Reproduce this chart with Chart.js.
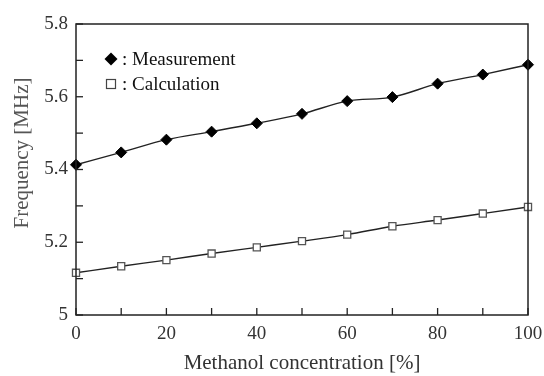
<!DOCTYPE html>
<html>
<head>
<meta charset="utf-8">
<script src="https://cdn.jsdelivr.net/npm/chart.js@4/dist/chart.umd.min.js"></script>
<style>
html,body{margin:0;padding:0;background:#fff;}
#wrap{width:544px;height:376px;position:relative;}
</style>
</head>
<body>
<div id="wrap"><canvas id="c" width="544" height="376"></canvas></div>
<script>
const concentrations = [0, 10, 20, 30, 40, 50, 60, 70, 80, 90, 100];
const measurement = [5.413, 5.447, 5.482, 5.504, 5.527, 5.553, 5.588, 5.599, 5.636, 5.661, 5.688];
const calculation = [5.116, 5.134, 5.151, 5.169, 5.186, 5.203, 5.221, 5.244, 5.261, 5.279, 5.297];
const xTickLabels = [0, 20, 40, 60, 80, 100];
const yTickLabels = [5, 5.2, 5.4, 5.6, 5.8];
const seriesNames = [': Measurement', ': Calculation'];
const xTitle = 'Methanol concentration [%]';
const yTitle = 'Frequency [MHz]';

const serif = '"Liberation Serif", "Times New Roman", serif';

const framePlugin = {
  id: 'frame',
  afterDatasetsDraw(chart) {
    const {ctx, chartArea: a, scales} = chart;
    ctx.save();
    ctx.strokeStyle = '#222';
    ctx.lineWidth = 1.5;
    ctx.strokeRect(a.left, a.top, a.right - a.left, a.bottom - a.top);
    ctx.lineWidth = 1.3;
    scales.y.ticks.forEach(t => {
      const py = scales.y.getPixelForValue(t.value);
      ctx.beginPath(); ctx.moveTo(a.left, py); ctx.lineTo(a.left + 7, py); ctx.stroke();
    });
    scales.x.ticks.forEach(t => {
      const px = scales.x.getPixelForValue(t.value);
      ctx.beginPath(); ctx.moveTo(px, a.bottom); ctx.lineTo(px, a.bottom - 7); ctx.stroke();
    });
    ctx.fillStyle = '#555';
    ctx.font = '21px ' + serif;
    ctx.textAlign = 'center';
    ctx.textBaseline = 'middle';
    ctx.translate(22, 153);
    ctx.rotate(-Math.PI / 2);
    ctx.fillText(yTitle, 0, 0);
    ctx.restore();

    ctx.save();
    const lx = a.left + 35, ly1 = a.top + 35, ly2 = a.top + 60;
    ctx.fillStyle = '#000';
    ctx.beginPath();
    ctx.moveTo(lx, ly1 - 6.5); ctx.lineTo(lx + 6.5, ly1); ctx.lineTo(lx, ly1 + 6.5); ctx.lineTo(lx - 6.5, ly1); ctx.closePath();
    ctx.fill();
    ctx.fillStyle = '#fff';
    ctx.strokeStyle = '#444';
    ctx.lineWidth = 1.2;
    ctx.fillRect(lx - 4.5, ly2 - 4.5, 9, 9);
    ctx.strokeRect(lx - 4.5, ly2 - 4.5, 9, 9);
    ctx.fillStyle = '#111';
    ctx.font = '19px ' + serif;
    ctx.textAlign = 'left';
    ctx.textBaseline = 'middle';
    ctx.fillText(seriesNames[0], lx + 11, ly1 + 1);
    ctx.fillText(seriesNames[1], lx + 11, ly2 + 1);
    ctx.restore();
  }
};

new Chart(document.getElementById('c'), {
  type: 'line',
  data: {
    datasets: [
      {
        label: seriesNames[0],
        data: concentrations.map((x, i) => ({x, y: measurement[i]})),
        borderColor: '#222',
        borderWidth: 1.4,
        pointStyle: 'rectRot',
        pointRadius: 5.5,
        pointBackgroundColor: '#000',
        pointBorderColor: '#000',
        pointBorderWidth: 1,
        cubicInterpolationMode: 'monotone',
        clip: false
      },
      {
        label: seriesNames[1],
        data: concentrations.map((x, i) => ({x, y: calculation[i]})),
        borderColor: '#222',
        borderWidth: 1.4,
        pointStyle: 'rect',
        pointRadius: 5,
        pointBackgroundColor: '#fff',
        pointBorderColor: '#555',
        pointBorderWidth: 1.3,
        cubicInterpolationMode: 'monotone',
        clip: false
      }
    ]
  },
  options: {
    responsive: false,
    animation: false,
    layout: {padding: {left: 0, right: 16, top: 24, bottom: 0}},
    plugins: {legend: {display: false}, tooltip: {enabled: false}},
    scales: {
      x: {
        type: 'linear',
        min: 0, max: 100,
        grid: {display: false, drawTicks: false},
        border: {display: false},
        ticks: {
          stepSize: 10,
          padding: 8,
          color: '#333',
          font: {family: serif, size: 19},
          maxRotation: 0,
          autoSkip: false,
          callback: v => xTickLabels.includes(v) ? String(v) : ''
        },
        title: {display: true, text: xTitle, color: '#333', font: {family: serif, size: 21}, padding: {top: 0, bottom: 0}},
        afterFit: s => { s.height = 61; s.paddingRight = 0; s.paddingLeft = 0; }
      },
      y: {
        type: 'linear',
        min: 5, max: 5.8,
        grid: {display: false, drawTicks: false},
        border: {display: false},
        ticks: {
          stepSize: 0.1,
          padding: 8,
          color: '#333',
          font: {family: serif, size: 19},
          autoSkip: false,
          callback: v => {
            const r = Math.round(v * 10) / 10;
            return yTickLabels.some(t => Math.abs(t - r) < 1e-6) ? String(r) : '';
          }
        },
        afterFit: s => { s.width = 76; s.paddingTop = 0; s.paddingBottom = 0; }
      }
    }
  },
  plugins: [framePlugin]
});
</script>
</body>
</html>
